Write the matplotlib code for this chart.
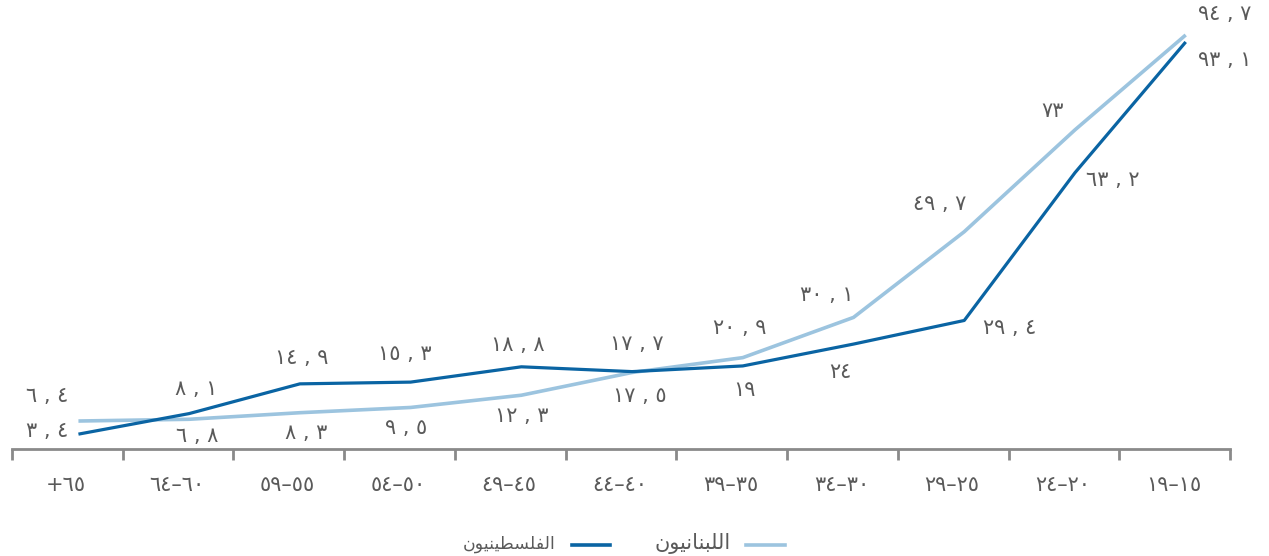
import matplotlib
matplotlib.use("Agg")
import matplotlib.pyplot as plt

# age groups, in display order (left to right)
age_groups = ["+٦٥", "٦٤–٦٠", "٥٩–٥٥", "٥٤–٥٠", "٤٩–٤٥", "٤٤–٤٠",
              "٣٩–٣٥", "٣٤–٣٠", "٢٩–٢٥", "٢٤–٢٠", "١٩–١٥"]
palestinians = [3.4, 8.1, 14.9, 15.3, 18.8, 17.7, 19, 24, 29.4, 63.2, 93.1]
lebanese = [6.4, 6.8, 8.3, 9.5, 12.3, 17.5, 20.9, 30.1, 49.7, 73, 94.7]

label_pal = "الفلسطينيون"
label_leb = "اللبنانيون"

# label offsets in pixels (dx, dy) for each point
off_pal = [(-31, 3), (7, 25), (2, 26), (-6, 28), (-4, 22), (5, 28),
           (2, -24), (-13, -28), (45, -8), (38, -7), (39, -18)]
off_leb = [(-31, 25), (8, -17), (6, -20), (-4, -21), (0, -21), (8, -24),
           (-3, 30), (-27, 22), (-25, 28), (-22, 19), (39, 21)]

DARK = "#0a64a3"
LIGHT = "#9cc4df"
GREY = "#5a5a5a"
AXIS = "#8a8a8a"

# minimal arabic shaping (matplotlib draws glyphs LTR without joining)
FORMS = {
    "ا": ("\uFE8D", "\uFE8E", None, None),
    "و": ("\uFEED", "\uFEEE", None, None),
    "ل": ("\uFEDD", "\uFEDE", "\uFEDF", "\uFEE0"),
    "ب": ("\uFE8F", "\uFE90", "\uFE91", "\uFE92"),
    "ن": ("\uFEE5", "\uFEE6", "\uFEE7", "\uFEE8"),
    "ي": ("\uFEF1", "\uFEF2", "\uFEF3", "\uFEF4"),
    "ف": ("\uFED1", "\uFED2", "\uFED3", "\uFED4"),
    "س": ("\uFEB1", "\uFEB2", "\uFEB3", "\uFEB4"),
    "ط": ("\uFEC1", "\uFEC2", "\uFEC3", "\uFEC4"),
}


def shape(word):
    out = []
    for i, ch in enumerate(word):
        iso, fin, ini, med = FORMS[ch]
        prev_joins = i > 0 and FORMS[word[i - 1]][2] is not None
        next_joins = i < len(word) - 1 and ini is not None
        if prev_joins and next_joins:
            out.append(med)
        elif prev_joins:
            out.append(fin)
        elif next_joins:
            out.append(ini)
        else:
            out.append(iso)
    return "".join(reversed(out))


def fmt(v):
    s = f"{v:g}".replace(".", " , ")
    return s.translate(str.maketrans("0123456789", "٠١٢٣٤٥٦٧٨٩"))


plt.rcParams["font.family"] = ["DejaVu Sans"]

fig = plt.figure(figsize=(12.69, 5.56), dpi=100)
ax = fig.add_axes([12 / 1269, 107 / 556, 1218 / 1269, 449 / 556])

x = list(range(len(age_groups)))
ax.plot(x, lebanese, color=LIGHT, linewidth=2.6, solid_capstyle="butt")
ax.plot(x, palestinians, color=DARK, linewidth=2.3, solid_capstyle="butt")

for i in x:
    ax.annotate(fmt(lebanese[i]), (i, lebanese[i]), xytext=off_leb[i],
                textcoords="offset pixels", ha="center", va="center",
                fontsize=15, color=GREY)
    ax.annotate(fmt(palestinians[i]), (i, palestinians[i]), xytext=off_pal[i],
                textcoords="offset pixels", ha="center", va="center",
                fontsize=15, color=GREY)

ax.set_xlim(-0.6, 10.4)
ax.set_ylim(0, 102.7)

for s in ["top", "right", "left"]:
    ax.spines[s].set_visible(False)
ax.spines["bottom"].set_color(AXIS)
ax.spines["bottom"].set_linewidth(2)
ax.set_yticks([])
ax.set_xticks([i - 0.6 for i in range(len(age_groups) + 1)])
ax.set_xticklabels([])
ax.tick_params(axis="x", length=8, width=2, color=AXIS)

for i, lab in enumerate(age_groups):
    ax.annotate(lab, (i - 0.11, 0), xytext=(0, -36), textcoords="offset pixels",
                ha="center", va="center", fontsize=15, color=GREY,
                annotation_clip=False)

# legend drawn by hand at the bottom (right-to-left layout)
fig.lines.append(plt.Line2D([746 / 1269, 785 / 1269], [11 / 556, 11 / 556],
                            transform=fig.transFigure, color=LIGHT, linewidth=2.6))
fig.text(731 / 1269, 13 / 556, shape(label_leb), ha="right", va="center",
         fontsize=15, color=GREY)
fig.lines.append(plt.Line2D([572 / 1269, 610 / 1269], [11 / 556, 11 / 556],
                            transform=fig.transFigure, color=DARK, linewidth=2.6))
fig.text(556 / 1269, 12 / 556, shape(label_pal), ha="right", va="center",
         fontsize=12.5, color=GREY)

fig.savefig("out.png", dpi=100)
